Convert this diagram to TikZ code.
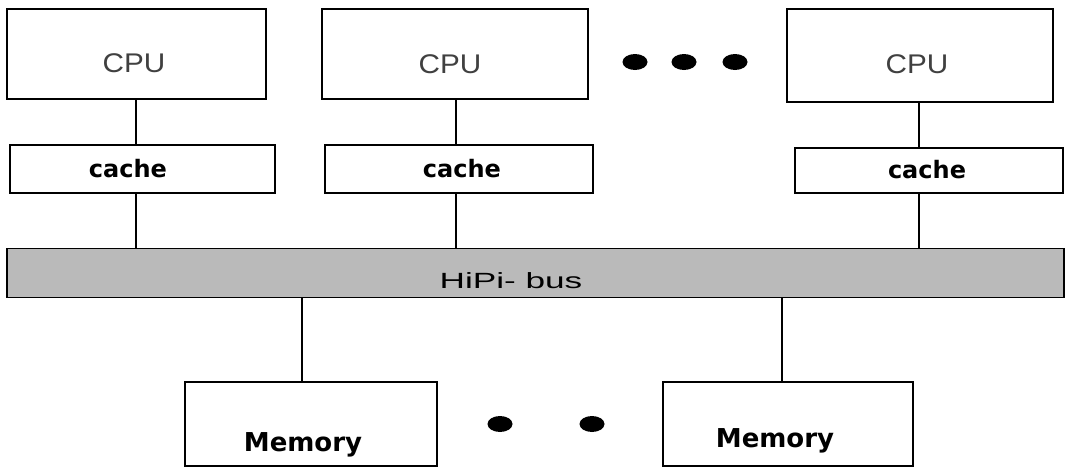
\documentclass[tikz,border=0pt]{standalone}
\usepackage{fontspec}
\usepackage{graphicx}
\setmainfont{Liberation Sans}
\newfontfamily\chicago{DejaVu Sans}
\begin{document}
\begin{tikzpicture}[x=1pt,y=-1pt,line width=1.3pt,
  box/.style={draw=black,rectangle,inner sep=0pt},
  cputext/.style={font=\fontsize{27}{30}\selectfont,text=black!75,inner sep=0pt},
  boldtext/.style={font=\chicago\bfseries\fontsize{24}{28}\selectfont,inner sep=0pt},
  memtext/.style={font=\chicago\bfseries\fontsize{26}{30}\selectfont,inner sep=0pt},
  bustext/.style={font=\fontsize{22}{26}\selectfont,inner sep=0pt},
  conn/.style={draw=black,line width=1.3pt},
  dotmark/.style={fill=black}]
\useasboundingbox (0,0) rectangle (1072,469);

% CPUs
\node[box,minimum width=259pt,minimum height=90pt] (cpu1) at (136.5,54) {};
\node[box,minimum width=266pt,minimum height=90pt] (cpu2) at (455,54) {};
\node[box,minimum width=266pt,minimum height=93pt] (cpu3) at (920,55.5) {};
\node[cputext] (cpu1t) at (134,63) {\scalebox{1.1}[1]{CPU}};
\node[cputext] (cpu2t) at (450,64) {\scalebox{1.1}[1]{CPU}};
\node[cputext] (cpu3t) at (917,64) {\scalebox{1.1}[1]{CPU}};

% caches
\node[box,minimum width=265pt,minimum height=48pt] (cache1) at (142.5,169) {};
\node[box,minimum width=268pt,minimum height=48pt] (cache2) at (459,169) {};
\node[box,minimum width=268pt,minimum height=45pt] (cache3) at (929,170.5) {};
\node[boldtext] (cache1t) at (128,169) {cache};
\node[boldtext] (cache2t) at (462,169) {cache};
\node[boldtext] (cache3t) at (927,170) {cache};

% bus
\node[box,fill=black!27,minimum width=1057pt,minimum height=49pt] (bus) at (535.5,273) {};
\node[bustext,anchor=base] (bust) at (511,288) {\scalebox{1.6}[1]{HiPi- bus}};

% memories
\node[box,minimum width=252pt,minimum height=84pt] (mem1) at (311,424) {};
\node[box,minimum width=250pt,minimum height=84pt] (mem2) at (788,424) {};
\node[memtext,anchor=base] (mem1t) at (303,451) {Memory};
\node[memtext,anchor=base] (mem2t) at (775,447) {Memory};

% connector columns
\coordinate (c1) at (136,0);
\coordinate (c2) at (456,0);
\coordinate (c3) at (919,0);
\coordinate (m1) at (302,0);
\coordinate (m2) at (782,0);

\draw[conn] (cpu1.south -| c1) -- (cache1.north -| c1);
\draw[conn] (cpu2.south -| c2) -- (cache2.north -| c2);
\draw[conn] (cpu3.south -| c3) -- (cache3.north -| c3);
\draw[conn] (cache1.south -| c1) -- (bus.north -| c1);
\draw[conn] (cache2.south -| c2) -- (bus.north -| c2);
\draw[conn] (cache3.south -| c3) -- (bus.north -| c3);
\draw[conn] (bus.south -| m1) -- (mem1.north -| m1);
\draw[conn] (bus.south -| m2) -- (mem2.north -| m2);

% ellipsis dots
\fill[dotmark] (635,62) ellipse [x radius=12.5pt,y radius=8pt];
\fill[dotmark] (684,62) ellipse [x radius=12.5pt,y radius=8pt];
\fill[dotmark] (735,62) ellipse [x radius=12.5pt,y radius=8pt];
\fill[dotmark] (500,424) ellipse [x radius=12.5pt,y radius=8pt];
\fill[dotmark] (592,424) ellipse [x radius=12.5pt,y radius=8pt];
\end{tikzpicture}
\end{document}
